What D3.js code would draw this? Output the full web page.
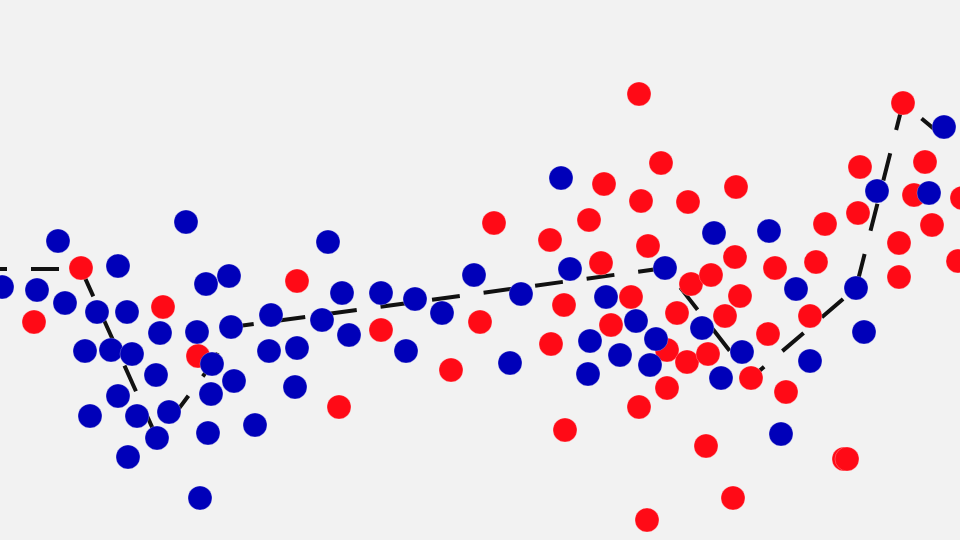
<!DOCTYPE html>
<html>
<head>
<meta charset="utf-8">
<script src="https://cdn.jsdelivr.net/npm/d3@7"></script>
<style>
html,body{margin:0;padding:0;background:#f2f2f2;}
svg{display:block;}
</style>
</head>
<body>
<script>
// Red series
const redX = [8.1,3.4,16.3,19.8,29.7,38.1,45.1,33.9,48.0,49.4,63.9,66.1,60.4,64.1,68.8,58.9,55.0,64.8,73.6,60.1,69.1,71.1,56.4,63.1,61.1,67.7,72.5,55.1,66.7,68.7,70.8,66.7,63.9,56.5,70.6,64.7,73.3,90.3,92.5,86.0,91.4,96.2,85.8,82.5,93.2,89.9,73.5,77.5,81.6,95.8,89.9,74.0,81.0,76.8,75.1,78.6,84.4,84.7];
const redY = [27.2,21.8,23.3,18.4,25.9,21.0,17.0,13.3,21.8,31.7,44.6,37.7,35.6,33.9,33.8,32.0,30.0,29.4,35.3,27.7,25.6,26.5,23.5,24.3,21.5,22.7,22.4,19.6,19.0,17.8,18.6,15.2,13.3,11.0,9.4,2.0,4.2,43.7,37.8,37.3,34.5,34.2,32.7,31.6,31.5,29.7,28.3,27.2,27.8,27.9,26.3,24.4,22.4,20.6,16.2,14.8,8.1,8.1];
// Blue series
const blueX = [0.2,3.7,5.8,11.8,6.5,9.7,12.7,16.0,8.5,11.1,13.2,15.6,11.8,9.0,13.7,16.9,15.7,12.8,18.6,20.6,22.9,23.1,19.7,21.2,23.4,21.1,20.8,20.0,25.5,32.8,34.2,38.1,27.1,32.2,34.9,41.5,44.2,47.4,26.9,29.7,40.6,29.5,52.1,51.0,56.1,57.0,60.6,63.6,65.6,59.0,62.0,65.0,58.8,66.5,70.2,72.1,74.2,71.4,76.9,79.6,81.0,78.1,85.6,86.4,87.7,92.9,94.4];
const blueY = [25.3,25.0,29.9,27.4,23.7,22.8,22.8,20.7,18.9,19.0,18.6,16.5,14.4,12.4,12.4,12.8,10.2,8.3,31.8,25.6,26.4,21.3,20.8,17.6,15.9,14.6,10.7,4.2,11.5,29.8,24.7,24.7,22.5,22.0,20.5,24.1,22.7,26.5,18.9,19.2,18.9,15.3,24.6,17.7,36.2,27.1,24.3,21.9,20.1,19.9,18.5,17.5,16.6,27.2,21.2,16.2,18.8,30.7,30.9,25.1,17.9,10.6,25.2,20.8,34.9,34.7,41.3];
// Dashed line
const lineX = [-2.1,8.1,15.7,21.2,23.1,66.5,75.1,85.6,90.3,97.5];
const lineY = [27.1,27.1,10.2,17.6,21.3,27.2,16.2,25.2,43.7,37.7];

const W = 960, H = 540;
const x = d3.scaleLinear().domain([0, 96]).range([0, W]);
const y = d3.scaleLinear().domain([0, 54]).range([H, 0]);

const svg = d3.select("body").append("svg").attr("width", W).attr("height", H);
svg.append("rect").attr("width", W).attr("height", H).attr("fill", "#f2f2f2");

const linePts = lineX.map((v, i) => [v, lineY[i]]);
svg.append("path")
  .datum(linePts)
  .attr("d", d3.line().x(d => x(d[0])).y(d => y(d[1])))
  .attr("fill", "none")
  .attr("stroke", "#111111")
  .attr("stroke-width", 4)
  .attr("stroke-dasharray", "28,24");

const red = redX.map((v, i) => ({x: v, y: redY[i]}));
const blue = blueX.map((v, i) => ({x: v, y: blueY[i]}));

svg.append("g").selectAll("circle").data(red).join("circle")
  .attr("cx", d => x(d.x)).attr("cy", d => y(d.y)).attr("r", 12)
  .attr("fill", "#ff0a16").attr("stroke", "#ffffff").attr("stroke-opacity", 0.25).attr("stroke-width", 1);

svg.append("g").selectAll("circle").data(blue).join("circle")
  .attr("cx", d => x(d.x)).attr("cy", d => y(d.y)).attr("r", 12)
  .attr("fill", "#0000b9").attr("stroke", "#ffffff").attr("stroke-opacity", 0.25).attr("stroke-width", 1);
</script>
</body>
</html>
